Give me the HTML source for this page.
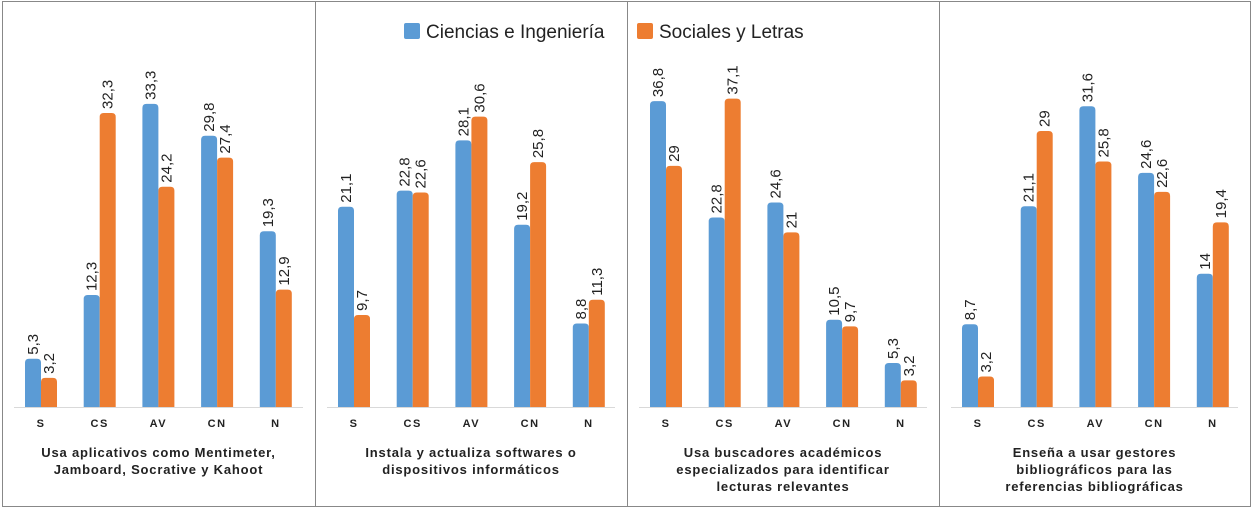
<!DOCTYPE html>
<html><head><meta charset="utf-8">
<style>
body{margin:0;background:#fff;}
svg{display:block;font-family:"Liberation Sans",sans-serif;}
</style></head>
<body>
<svg id="c" width="1252" height="510" viewBox="0 0 1252 510">
<rect x="0" y="0" width="1252" height="510" fill="#fff"/>
<g>
<rect x="404" y="23" width="16" height="16" rx="2" fill="#5B9BD5"/>
<text x="426" y="38" font-size="19" fill="#222">Ciencias e Ingeniería</text>
<rect x="637" y="23" width="16" height="16" rx="2" fill="#ED7D31"/>
<text x="659" y="38" font-size="19" fill="#222">Sociales y Letras</text>
</g>
</svg>
<script>
const categories=["S","CS","AV","CN","N"];
const titles=[["Usa aplicativos como Mentimeter,","Jamboard, Socrative y Kahoot"],["Instala y actualiza softwares o","dispositivos informáticos"],["Usa buscadores académicos","especializados para identificar","lecturas relevantes"],["Enseña a usar gestores","bibliográficos para las","referencias bibliográficas"]];
const ciencias=[[5.3,12.3,33.3,29.8,19.3],[21.1,22.8,28.1,19.2,8.8],[36.8,22.8,24.6,10.5,5.3],[8.7,21.1,31.6,24.6,14]];
const sociales=[[3.2,32.3,24.2,27.4,12.9],[9.7,22.6,30.6,25.8,11.3],[29,37.1,21,9.7,3.2],[3.2,29,25.8,22.6,19.4]];
const axisMax=[36.8,35.3,40.3,35.2];
const svg=document.getElementById('c');
const NS="http://www.w3.org/2000/svg";
const panelX=[2,315,627,939,1250];
const base=407, plotH=335;
function mk(t,a,p){const e=document.createElementNS(NS,t);for(const k in a)e.setAttribute(k,a[k]);(p||svg).appendChild(e);return e;}
function fmt(v){return String(v).replace('.',',');}
function barPath(x,y,w,h){const r=Math.min(4,h);return `M${x},${base}V${y+r}Q${x},${y} ${x+r},${y}H${x+w-r}Q${x+w},${y} ${x+w},${y+r}V${base}Z`;}
for(let p=0;p<4;p++){
  const x0=panelX[p],x1=panelX[p+1];
  const b=mk('rect',{x:x0+0.5,y:1.5,width:x1-x0,height:505,fill:'none',stroke:'#888','stroke-width':1});
  
  
  const ax=mk('line',{x1:x0+12,x2:x1-12,y1:base+0.5,y2:base+0.5,stroke:'#d9d9d9','stroke-width':1});
  
  
  const y=v=>base-v/axisMax[p]*plotH;
  categories.forEach((c,i)=>{
    const cx=x0+39+i*58.7;
    [[ciencias[p][i],'#5B9BD5',cx-16,'ciencias'],[sociales[p][i],'#ED7D31',cx,'sociales']].forEach(([v,col,bx,s])=>{
      const top=y(v);
      const r=mk('path',{d:barPath(bx,top,16,base-top),fill:col});
      
      
      const t=mk('text',{x:0,y:0,'font-size':15,fill:'#222',transform:`translate(${bx+13},${top-4}) rotate(-90)`});
      t.textContent=fmt(v);
      
      
    });
    const tl=mk('text',{x:cx,y:427,'font-size':11,'font-weight':'bold','text-anchor':'middle','letter-spacing':'1.5',fill:'#222'});
    tl.textContent=c;
    
    
  });
  titles[p].forEach((line,j)=>{
    const t=mk('text',{x:(x0+x1)/2,y:457+j*17,'font-size':13,'font-weight':'bold','text-anchor':'middle','letter-spacing':'0.8',fill:'#222'});
    t.textContent=line;
    
    
  });
}
</script>
</body></html>
